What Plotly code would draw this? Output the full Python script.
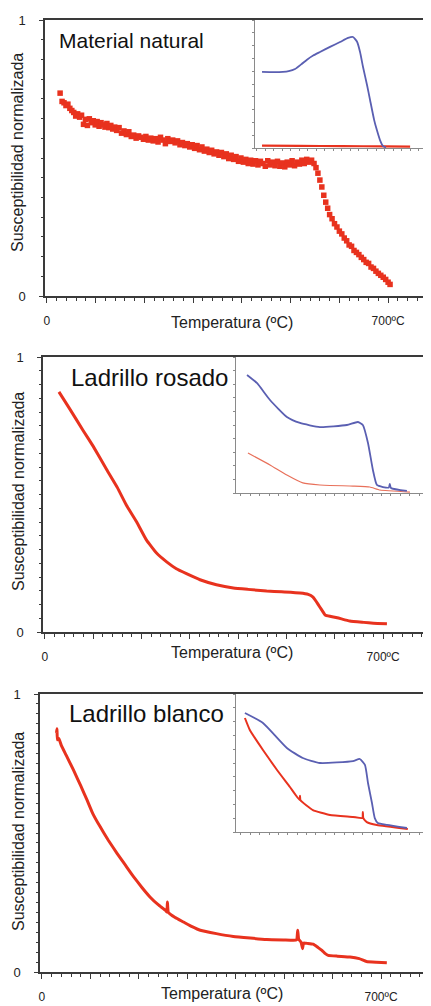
import plotly.graph_objects as go

# window is 431x1006, page body has an 8px margin -> figure drawn 8px in from top-left
W, H = 431, 1006
OFF = 8
FW, FH = W - OFF, H - OFF

# ---------------- data ----------------
# Panel 1: Material natural (main, red scatter)
nat_T = [27,31,35,39,43,47,51,55,59,63,67,71,75,79,83,87,91,95,99,103,107,111,115,119,123,127,131,135,139,143,
         148,153,158,163,168,173,178,183,188,193,198,203,208,213,218,223,228,233,238,243,248,253,258,263,268,273,
         278,283,288,293,298,303,308,313,318,323,328,333,338,343,348,353,358,363,368,373,378,383,388,393,398,403,
         408,413,418,423,428,433,438,443,448,453,458,463,468,473,478,483,488,493,498,503,508,513,518,523,528,533,
         538,543,548,552,556,560,564,568,572,576,580,585,590,595,600,605,610,615,620,625,630,635,640,645,650,655,
         660,665,670,675,680,685,690,695,700,704]
nat_v = [0.735,0.705,0.700,0.690,0.695,0.680,0.672,0.665,0.652,0.660,0.648,0.655,0.622,0.640,0.618,0.642,0.628,0.635,
         0.620,0.632,0.615,0.628,0.620,0.612,0.625,0.610,0.618,0.605,0.612,0.600,0.610,0.590,0.598,0.585,0.595,0.578,
         0.583,0.572,0.580,0.575,0.568,0.578,0.565,0.572,0.562,0.570,0.558,0.575,0.565,0.552,0.570,0.560,0.565,0.555,
         0.562,0.548,0.556,0.545,0.552,0.540,0.548,0.535,0.545,0.530,0.540,0.525,0.532,0.520,0.528,0.515,0.522,0.510,
         0.520,0.505,0.515,0.498,0.510,0.495,0.505,0.488,0.500,0.485,0.495,0.480,0.492,0.478,0.490,0.475,0.488,0.480,
         0.470,0.490,0.475,0.485,0.472,0.488,0.470,0.482,0.468,0.485,0.475,0.490,0.472,0.485,0.478,0.492,0.480,0.495,
         0.485,0.492,0.480,0.465,0.445,0.420,0.395,0.365,0.340,0.318,0.295,0.280,0.262,0.250,0.235,0.225,0.210,0.200,
         0.185,0.180,0.165,0.158,0.150,0.140,0.132,0.122,0.118,0.105,0.100,0.090,0.082,0.075,0.068,0.060,0.050,0.042]
# Panel 1 inset
nat_in_blue_T = [25,80,123,150,180,210,236,265,297,344,391,429,452,471,485,499,518,532,551,564,579,593,607]
nat_in_blue_v = [0.594,0.592,0.594,0.600,0.617,0.655,0.690,0.722,0.750,0.790,0.828,0.860,0.867,0.830,0.750,0.633,0.490,0.375,0.220,0.140,0.060,0.015,0.004]
nat_in_red_T = [25,200,400,600,720]
nat_in_red_v = [0.018,0.016,0.015,0.012,0.010]

# Panel 2: Ladrillo rosado
ros_T = [29,50,79,100,128,150,169,190,210,231,252,272,293,321,355,390,420,459,490,528,545,555,562,569,575,580,590,605,631,660,680,708]
ros_v = [0.873,0.815,0.733,0.675,0.590,0.525,0.460,0.400,0.335,0.287,0.255,0.230,0.212,0.190,0.172,0.160,0.155,0.149,0.146,0.142,0.137,0.127,0.110,0.091,0.075,0.062,0.057,0.052,0.040,0.035,0.032,0.030]
ros_in_blue_T = [26,68,124,196,252,337,452,499,520,542,563,580,606,631,635,640,708]
ros_in_blue_v = [0.868,0.809,0.684,0.559,0.515,0.485,0.500,0.522,0.500,0.368,0.169,0.059,0.044,0.040,0.066,0.037,0.015]
ros_in_red_T = [30,124,196,264,337,478,550,593,721]
ros_in_red_v = [0.294,0.206,0.132,0.074,0.059,0.051,0.044,0.022,0.007]

# Panel 3: Ladrillo blanco
bla_T = [30,31,32,35,40,50,65,80,93,105,120,137,155,172,189,206,223,240,255,258,259,261,275,292,310,327,360,395,430,464,500,519,526,528,530,535,538,540,542,548,560,570,578,585,591,610,636,655,670,690,712]
bla_v = [0.860,0.875,0.835,0.840,0.815,0.780,0.727,0.670,0.619,0.570,0.523,0.474,0.427,0.385,0.343,0.305,0.270,0.242,0.222,0.216,0.252,0.214,0.196,0.180,0.163,0.150,0.138,0.128,0.122,0.117,0.115,0.114,0.116,0.150,0.118,0.107,0.084,0.104,0.104,0.103,0.100,0.088,0.078,0.066,0.060,0.057,0.054,0.048,0.038,0.035,0.033]
bla_in_blue_T = [17,94,196,264,337,478,507,529,542,559,571,584,623,708]
bla_in_blue_v = [0.862,0.790,0.609,0.536,0.500,0.514,0.529,0.486,0.355,0.210,0.101,0.065,0.051,0.029]
bla_in_red_T = [17,38,94,154,209,250,252,254,307,380,478,518,520,522,537,580,712]
bla_in_red_v = [0.826,0.739,0.594,0.449,0.326,0.232,0.262,0.230,0.159,0.123,0.109,0.101,0.145,0.100,0.072,0.051,0.022]

titles = ["Material natural", "Ladrillo rosado", "Ladrillo blanco"]
ytitle = "Susceptibilidad normalizada"
xtitle = "Temperatura (ºC)"
xticktext = ["0", "", "", "", "", "", "", "700ºC"]

RED = "#e8321e"
BLUE = "#5a5fb2"
AX = "#3a3a3a"
INAX = "#8a8a8a"
FONT = "Liberation Sans, Arial"

# ---------------- geometry helpers (window pixels -> paper) ----------------
def px(x):
    return min(max((x - OFF) / FW, 0), 1)

def py(y):
    return min(max(1 - (y - OFF) / FH, 0), 1)

def xd(a, b):
    return [px(a), px(b)]

def yd(top, bot):
    return [py(bot), py(top)]

fig = go.Figure()

panels = [
    dict(main=(45, 431, 20, 296, [-4, 788]), inset=(255, 431, 20, 148, [-8, 818]), ndiv=7, nminor=14, mirror_y=False),
    dict(main=(43, 428, 357, 632, [-4, 793]), inset=(236, 428, 357, 493, [-21, 798]), ndiv=5, nminor=20, mirror_y=True),
    dict(main=(40, 428, 694, 972, [-4, 797]), inset=(236, 428, 694, 832, [-21, 798]), ndiv=7, nminor=28, mirror_y=True),
]

main_data = [(nat_T, nat_v, "markers"), (ros_T, ros_v, "lines"), (bla_T, bla_v, "lines")]
inset_data = [
    (nat_in_blue_T, nat_in_blue_v, nat_in_red_T, nat_in_red_v, 2.2),
    (ros_in_blue_T, ros_in_blue_v, ros_in_red_T, ros_in_red_v, 1.2),
    (bla_in_blue_T, bla_in_blue_v, bla_in_red_T, bla_in_red_v, 2.0),
]

layout = {}
annotations = []
for i, p in enumerate(panels):
    mi = 2 * i + 1
    ii = 2 * i + 2
    l, r, t, b, xr = p["main"]
    il, ir, it, ib, ixr = p["inset"]
    nd = p["ndiv"]
    nm = p["nminor"]
    layout[f"xaxis{mi}"] = dict(
        domain=xd(l, r), range=xr, anchor=f"y{mi}", showgrid=False, zeroline=False, automargin=False,
        showline=True, linecolor=AX, linewidth=1.5, mirror=True,
        tickmode="array", tickvals=[0, 100, 200, 300, 400, 500, 600, 700], ticktext=xticktext,
        ticks="outside", ticklen=5, tickcolor=AX, tickwidth=1.2,
        ticklabelstandoff=8,
        tickfont=dict(family=FONT, size=12, color="#222"),
        minor=dict(dtick=20, ticks="outside", ticklen=3, tickcolor=AX, tickwidth=1),
    )
    yvals = [k / nd for k in range(nd + 1)]
    ytext = ["0"] + [""] * (nd - 1) + ["1"]
    layout[f"yaxis{mi}"] = dict(
        domain=yd(t, b), range=[0, 1], anchor=f"x{mi}", showgrid=False, zeroline=False, automargin=False,
        showline=True, linecolor=AX, linewidth=1.5, mirror=p["mirror_y"],
        tickmode="array", tickvals=yvals, ticktext=ytext,
        ticks="outside", ticklen=4, tickcolor=AX, tickwidth=1.2,
        ticklabelstandoff=11,
        tickfont=dict(family=FONT, size=13, color="#222"),
        minor=dict(tickvals=[k / nm for k in range(nm + 1)], ticks="outside", ticklen=2, tickcolor=AX, tickwidth=1),
    )
    layout[f"xaxis{ii}"] = dict(
        domain=xd(il, ir), range=ixr, anchor=f"y{ii}", showgrid=False, zeroline=False, automargin=False,
        showline=True, linecolor=INAX, linewidth=1.2, mirror=False,
        showticklabels=False, ticks="outside", dtick=40, ticklen=2, tickcolor=INAX, tickwidth=1,
    )
    layout[f"yaxis{ii}"] = dict(
        domain=yd(it, ib), range=[0, 1], anchor=f"x{ii}", showgrid=False, zeroline=False, automargin=False,
        showline=True, linecolor=INAX, linewidth=1.2, mirror=False,
        showticklabels=False, ticks="outside", dtick=0.1, ticklen=2, tickcolor=INAX, tickwidth=1,
    )

    T, v, mode = main_data[i]
    if mode == "markers":
        fig.add_trace(go.Scatter(x=T, y=v, mode="markers", xaxis=f"x{mi}", yaxis=f"y{mi}",
                                 marker=dict(symbol="square", size=5.5, color=RED, line=dict(width=0)),
                                 showlegend=False))
    else:
        fig.add_trace(go.Scatter(x=T, y=v, mode="lines", xaxis=f"x{mi}", yaxis=f"y{mi}",
                                 line=dict(color=RED, width=3, shape="spline", smoothing=0.35),
                                 showlegend=False))

    bT, bv, rT, rv, rw = inset_data[i]
    fig.add_trace(go.Scatter(x=rT, y=rv, mode="lines", xaxis=f"x{ii}", yaxis=f"y{ii}",
                             line=dict(color=RED if i != 1 else "#e8705a", width=rw, shape="spline", smoothing=0.4),
                             showlegend=False))
    fig.add_trace(go.Scatter(x=bT, y=bv, mode="lines", xaxis=f"x{ii}", yaxis=f"y{ii}",
                             line=dict(color=BLUE, width=1.8, shape="spline", smoothing=0.5),
                             showlegend=False))

shapes = []
for p in panels:
    il, ir, it, ib, _ = p["inset"]
    shapes.append(dict(type="rect", xref="paper", yref="paper", x0=px(il), x1=px(ir), y0=py(ib), y1=py(it),
                       fillcolor="white", line=dict(width=0), layer="below"))

title_pos = [(57, 40), (69, 377), (67, 713)]
title_size = [21, 24, 24]
ytitle_pos = [(18, 153), (18, 492), (18, 832)]
xtitle_pos = [(232, 322), (232, 652), (222, 993)]
for i in range(3):
    tx, ty = title_pos[i]
    annotations.append(dict(text=titles[i], x=px(tx), y=py(ty), xref="paper", yref="paper",
                            xanchor="left", yanchor="middle", showarrow=False,
                            font=dict(family=FONT, size=title_size[i], color="#111")))
    yx, yy = ytitle_pos[i]
    annotations.append(dict(text=ytitle, x=px(yx), y=py(yy), xref="paper", yref="paper",
                            xanchor="center", yanchor="middle", showarrow=False, textangle=-90,
                            font=dict(family=FONT, size=16, color="#222")))
    xx, xy = xtitle_pos[i]
    annotations.append(dict(text=xtitle, x=px(xx), y=py(xy), xref="paper", yref="paper",
                            xanchor="center", yanchor="middle", showarrow=False,
                            font=dict(family=FONT, size=16, color="#222")))

fig.update_layout(
    width=FW, height=FH, margin=dict(l=0, r=0, t=0, b=0, autoexpand=False),
    paper_bgcolor="white", plot_bgcolor="white",
    showlegend=False, annotations=annotations, shapes=shapes,
    **layout,
)

fig.write_html("out.html", config={"displayModeBar": False})
